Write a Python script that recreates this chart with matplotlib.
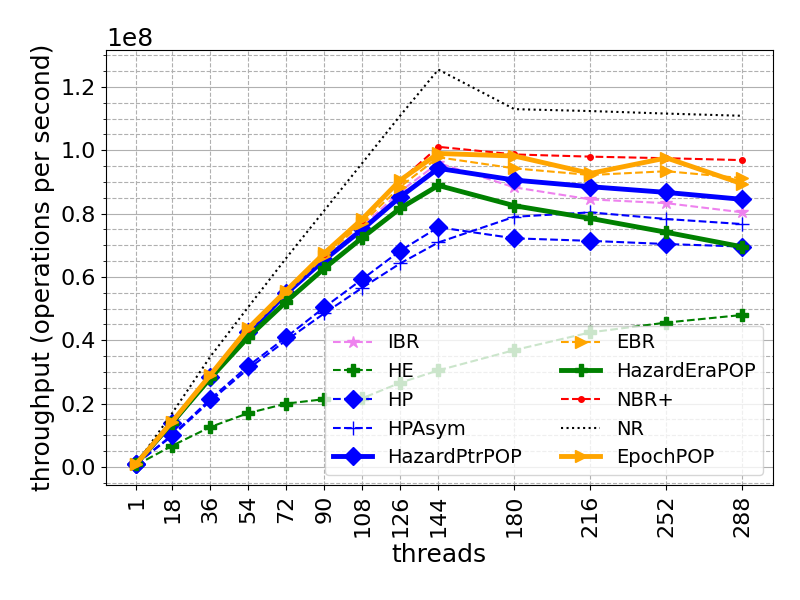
import matplotlib
matplotlib.use("Agg")
import matplotlib.pyplot as plt
from matplotlib.ticker import MultipleLocator

threads = [1, 18, 36, 54, 72, 90, 108, 126, 144, 180, 216, 252, 288]

# throughput values in units of 1e8 ops/s
ibr = [0.01, 0.14, 0.285, 0.425, 0.545, 0.655, 0.76, 0.87, 0.96, 0.883, 0.845, 0.833, 0.804]
he = [0.006, 0.067, 0.126, 0.170, 0.200, 0.214, 0.217, 0.266, 0.305, 0.369, 0.425, 0.456, 0.480]
hp = [0.01, 0.101, 0.214, 0.319, 0.41, 0.504, 0.593, 0.683, 0.757, 0.722, 0.714, 0.704, 0.696]
hpasym = [0.01, 0.098, 0.208, 0.31, 0.40, 0.485, 0.566, 0.643, 0.709, 0.790, 0.804, 0.783, 0.767]
hazardptrpop = [0.01, 0.14, 0.285, 0.425, 0.548, 0.654, 0.750, 0.853, 0.943, 0.906, 0.885, 0.867, 0.845]
ebr = [0.01, 0.142, 0.288, 0.43, 0.55, 0.665, 0.77, 0.885, 0.978, 0.943, 0.922, 0.934, 0.912]
hazardera = [0.01, 0.14, 0.28, 0.41, 0.522, 0.627, 0.724, 0.817, 0.889, 0.825, 0.785, 0.741, 0.695]
nbr = [0.01, 0.144, 0.29, 0.435, 0.558, 0.672, 0.78, 0.905, 1.011, 0.987, 0.980, 0.975, 0.969]
nr = [0.01, 0.17, 0.348, 0.505, 0.66, 0.81, 0.96, 1.11, 1.255, 1.130, 1.124, 1.116, 1.109]
epochpop = [0.01, 0.143, 0.290, 0.438, 0.557, 0.675, 0.783, 0.906, 0.990, 0.982, 0.927, 0.976, 0.894]

def s(vals):
    return [v * 1e8 for v in vals]

fig, ax = plt.subplots(figsize=(8, 6), dpi=100)
fig.subplots_adjust(left=0.1325, right=0.966, top=0.917, bottom=0.192)

ax.plot(threads, s(ibr), "--", color="violet", marker="*", markersize=9, linewidth=1.5, label="IBR")
ax.plot(threads, s(he), "--", color="green", marker="P", markersize=9, linewidth=1.5, label="HE")
ax.plot(threads, s(hp), "--", color="blue", marker="D", markersize=9, linewidth=1.5, label="HP")
ax.plot(threads, s(hpasym), "--", color="blue", marker="+", markersize=10, linewidth=1.5, label="HPAsym")
ax.plot(threads, s(hazardptrpop), "-", color="blue", marker="D", markersize=9, linewidth=3.5, label="HazardPtrPOP")
ax.plot(threads, s(ebr), "--", color="orange", marker=">", markersize=9, linewidth=1.5, label="EBR")
ax.plot(threads, s(hazardera), "-", color="green", marker="P", markersize=9, linewidth=3.5, label="HazardEraPOP")
ax.plot(threads, s(nbr), "--", color="red", marker=".", markersize=8, linewidth=1.5, label="NBR+")
ax.plot(threads, s(nr), ":", color="black", linewidth=1.5, label="NR")
ax.plot(threads, s(epochpop), "-", color="orange", marker=">", markersize=9, linewidth=3.5, label="EpochPOP")

ax.set_xticks(threads)
ax.set_xticklabels([str(t) for t in threads], rotation=90)
ax.yaxis.set_minor_locator(MultipleLocator(0.05e8))
ax.grid(axis="x", which="major", linestyle="--")
ax.grid(axis="y", which="major", linestyle="-")
ax.grid(axis="y", which="minor", linestyle="--")

ax.tick_params(labelsize=16)
ax.yaxis.get_offset_text().set_fontsize(18)
ax.set_xlabel("threads", fontsize=18)
ax.set_ylabel("throughput (operations per second)", fontsize=18)
ax.legend(ncol=2, loc="lower right", fontsize=14)

plt.savefig("out.png")
